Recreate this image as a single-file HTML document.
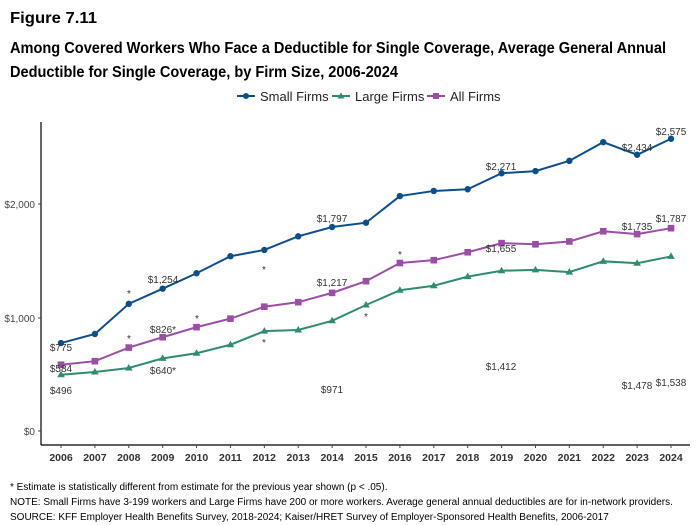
<!DOCTYPE html>
<html><head><meta charset="utf-8"><style>
body{margin:0;background:#fff}
svg{display:block;font-family:"Liberation Sans",Arial,sans-serif}
</style></head><body>
<svg id="s" width="698" height="525" viewBox="0 0 698 525" xmlns="http://www.w3.org/2000/svg">
<text x="10" y="23" font-size="15.5" font-weight="bold" fill="#000" textLength="87" lengthAdjust="spacingAndGlyphs">Figure 7.11</text>
<text x="10" y="53" font-size="15.5" font-weight="bold" fill="#000" textLength="656" lengthAdjust="spacingAndGlyphs">Among Covered Workers Who Face a Deductible for Single Coverage, Average General Annual</text>
<text x="10" y="77" font-size="15.5" font-weight="bold" fill="#000" textLength="388" lengthAdjust="spacingAndGlyphs">Deductible for Single Coverage, by Firm Size, 2006-2024</text>
<g font-size="13" fill="#222">
<line x1="237" y1="96" x2="255" y2="96" stroke="#0a4f8c" stroke-width="2"/><circle cx="246" cy="96" r="3" fill="#0a4f8c"/>
<text x="260" y="101">Small Firms</text>
<line x1="332" y1="96" x2="350" y2="96" stroke="#2e8b74" stroke-width="2"/><path d="M341 92.5l3.5 6h-7z" fill="#2e8b74"/>
<text x="355" y="101">Large Firms</text>
<line x1="427" y1="96" x2="445" y2="96" stroke="#9b4ea6" stroke-width="2"/><rect x="433" y="93" width="6" height="6" fill="#9b4ea6"/>
<text x="450" y="101">All Firms</text>
</g>
<line x1="41" y1="122" x2="41" y2="445" stroke="#000" stroke-width="1.2"/>
<line x1="41" y1="445" x2="690" y2="445" stroke="#000" stroke-width="1.2"/>
<g font-size="10" fill="#444" text-anchor="end">
<text x="35" y="435">$0</text><text x="35" y="322">$1,000</text><text x="35" y="208">$2,000</text>
</g>
<g stroke="#444"><line x1="38" y1="431" x2="41" y2="431"/><line x1="38" y1="318" x2="41" y2="318"/><line x1="38" y1="204" x2="41" y2="204"/></g>
<g id="xt" font-size="10.5" font-weight="bold" fill="#333" text-anchor="middle"></g>
<g id="series"></g>
<g font-size="10" fill="#333" text-anchor="middle">
<text x="61" y="351">$775</text>
<text x="61" y="372">$584</text>
<text x="61" y="394">$496</text>
<text x="163" y="283">$1,254</text>
<text x="163" y="333">$826*</text>
<text x="163" y="374">$640*</text>
<text x="332" y="222">$1,797</text>
<text x="332" y="286">$1,217</text>
<text x="332" y="393">$971</text>
<text x="501" y="170">$2,271</text>
<text x="501" y="252">$1,655</text>
<text x="501" y="370">$1,412</text>
<text x="637" y="151">$2,434</text>
<text x="637" y="230">$1,735</text>
<text x="637" y="389">$1,478</text>
<text x="671" y="135">$2,575</text>
<text x="671" y="222">$1,787</text>
<text x="671" y="386">$1,538</text>
<text x="129" y="297">*</text><text x="129" y="342">*</text>
<text x="197" y="322">*</text>
<text x="264" y="273">*</text><text x="264" y="346">*</text>
<text x="366" y="320">*</text>
<text x="400" y="258">*</text>
</g>
<g font-size="10" fill="#000">
<text x="10" y="490">* Estimate is statistically different from estimate for the previous year shown (p &lt; .05).</text>
<text x="10" y="505">NOTE: Small Firms have 3-199 workers and Large Firms have 200 or more workers. Average general annual deductibles are for in-network providers.</text>
<text x="10" y="520">SOURCE: KFF Employer Health Benefits Survey, 2018-2024; Kaiser/HRET Survey of Employer-Sponsored Health Benefits, 2006-2017</text>
</g>
<script>
var NS="http://www.w3.org/2000/svg";
function X(i){return 61+i*33.89}
function Y(v){return 431-v*0.1135}
var xt=document.getElementById('xt');
for(var i=0;i<19;i++){var t=document.createElementNS(NS,'text');t.setAttribute('x',X(i));t.setAttribute('y',461);t.textContent=2006+i;xt.appendChild(t);
var l=document.createElementNS(NS,'line');l.setAttribute('x1',X(i));l.setAttribute('x2',X(i));l.setAttribute('y1',445);l.setAttribute('y2',448);l.setAttribute('stroke','#444');xt.appendChild(l);}
var S=[[775,855,1120,1254,1390,1540,1595,1715,1797,1835,2070,2115,2130,2271,2290,2380,2545,2434,2575],
[496,520,555,640,685,760,880,890,971,1110,1240,1280,1360,1412,1420,1400,1495,1478,1538],
[584,615,735,826,915,990,1095,1135,1217,1320,1480,1505,1575,1655,1645,1670,1760,1735,1787]];
var C=['#0a4f8c','#2e8b74','#9b4ea6'];
var g=document.getElementById('series');
S.forEach(function(d,k){var p=d.map(function(v,i){return X(i)+','+Y(v)}).join(' ');
var pl=document.createElementNS(NS,'polyline');pl.setAttribute('points',p);pl.setAttribute('fill','none');pl.setAttribute('stroke',C[k]);pl.setAttribute('stroke-width','2');g.appendChild(pl);
d.forEach(function(v,i){var x=X(i),y=Y(v),m;
if(k==0){m=document.createElementNS(NS,'circle');m.setAttribute('cx',x);m.setAttribute('cy',y);m.setAttribute('r',3.2);}
else if(k==1){m=document.createElementNS(NS,'path');m.setAttribute('d','M'+x+' '+(y-4)+'l3.8 6.5h-7.6z');}
else{m=document.createElementNS(NS,'rect');m.setAttribute('x',x-3.3);m.setAttribute('y',y-3.3);m.setAttribute('width',6.6);m.setAttribute('height',6.6);}
m.setAttribute('fill',C[k]);g.appendChild(m);});});
</script>
</svg>
</body></html>
